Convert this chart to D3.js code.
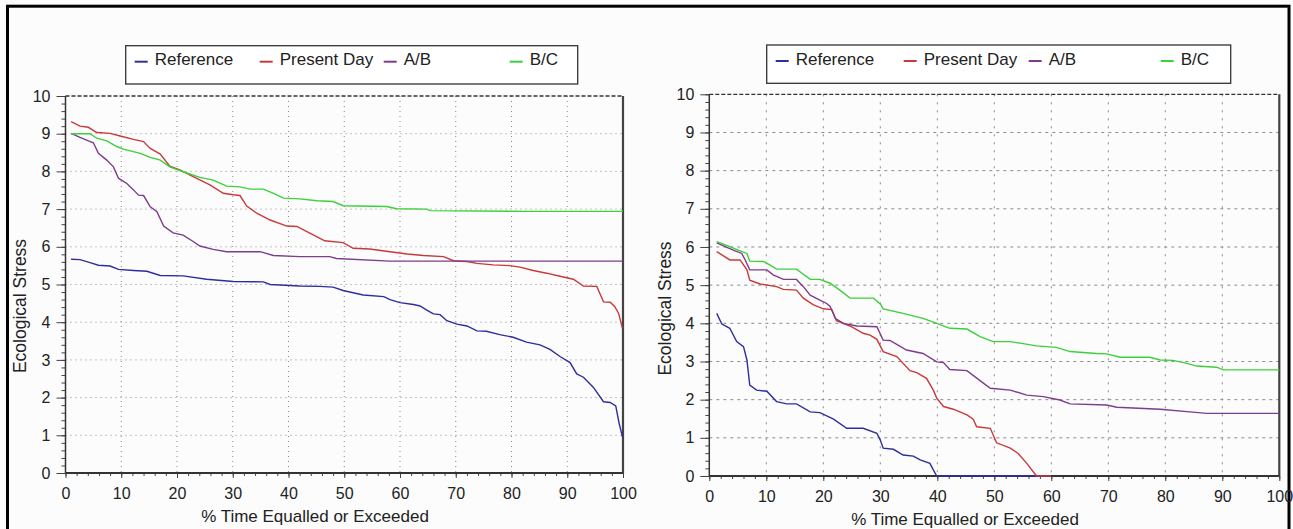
<!DOCTYPE html>
<html>
<head>
<meta charset="utf-8">
<script src="https://cdn.jsdelivr.net/npm/d3@7"></script>
<style>
  body { margin: 0; background: #fcfcfc; }
  svg { display: block; font-family: 'Liberation Sans', Arial, sans-serif; }
</style>
</head>
<body>
<svg id="chart" width="1293" height="529"></svg>
<script>
/* ── data ───────────────────────────────────────────── */
const seriesNames  = ["Reference", "Present Day", "A/B", "B/C"];
const seriesColors = ["#2e2e9e", "#c83a3a", "#7d3c8c", "#3ad13a"];
const xTicks = [0, 10, 20, 30, 40, 50, 60, 70, 80, 90, 100];
const yTicks = [0, 1, 2, 3, 4, 5, 6, 7, 8, 9, 10];

// left panel: [% time, stress]
const leftReference = [[1,5.67],[2.6,5.66],[4.4,5.58],[5.9,5.51],[8,5.49],[9.5,5.4],[12.2,5.37],[14.6,5.35],[17,5.24],[21.1,5.23],[25.3,5.14],[30.1,5.08],[35.5,5.07],[36.7,5.0],[42,4.96],[45.6,4.95],[48,4.93],[49.8,4.84],[53.4,4.72],[57.1,4.68],[58.2,4.6],[60,4.52],[62.4,4.47],[63.6,4.43],[64.8,4.32],[66,4.22],[67.2,4.2],[68.4,4.04],[70.2,3.95],[72,3.9],[73.8,3.77],[75.5,3.76],[77.9,3.67],[80.3,3.6],[82.7,3.47],[85.1,3.4],[86.9,3.28],[88.7,3.09],[90.5,2.93],[91.7,2.63],[92.9,2.54],[94.7,2.27],[96.5,1.89],[97.7,1.87],[98.7,1.78],[99.3,1.32],[99.9,0.96]];
const leftPresent = [[1,9.32],[2.6,9.2],[4.1,9.17],[5.6,9.03],[8,9.01],[9.8,8.94],[12.2,8.85],[14,8.79],[15.2,8.61],[17,8.46],[18.7,8.14],[20.5,8.04],[22.9,7.86],[25.9,7.64],[28.3,7.42],[30.1,7.38],[31.3,7.36],[32.5,7.08],[34.3,6.89],[36.7,6.71],[39.7,6.55],[41.5,6.54],[43.3,6.4],[45.3,6.25],[46.5,6.16],[49.8,6.11],[51.6,5.96],[54.6,5.94],[58.2,5.87],[61.3,5.81],[64.2,5.77],[67.8,5.74],[69.6,5.63],[72,5.61],[73.8,5.56],[76.7,5.52],[79.7,5.5],[81.5,5.46],[83.9,5.37],[86.3,5.3],[88.7,5.22],[91.1,5.14],[92.9,4.96],[95.3,4.95],[96.5,4.54],[97.7,4.53],[98.5,4.42],[99.2,4.24],[99.9,3.84]];
const leftAB = [[1,9.01],[2.6,8.9],[4.1,8.81],[5,8.76],[5.9,8.48],[7.4,8.3],[8.6,8.12],[9.5,7.82],[11,7.68],[12.2,7.51],[13.1,7.37],[14,7.36],[15.2,7.06],[16.4,6.93],[17.6,6.55],[19.3,6.37],[21.1,6.31],[22.9,6.14],[24.1,6.02],[26.5,5.93],[28.9,5.87],[34.9,5.87],[37.3,5.77],[42,5.74],[47.4,5.74],[48.6,5.69],[58.2,5.62],[100,5.62]];
const leftBC = [[1,9.0],[4.4,9.0],[5.6,8.88],[7.4,8.81],[9.2,8.66],[10.4,8.59],[13.4,8.48],[15.2,8.37],[17,8.3],[18.7,8.12],[21.1,7.99],[24.1,7.84],[26.5,7.77],[28.9,7.61],[31.3,7.59],[33.1,7.53],[35.5,7.53],[37.3,7.42],[39.1,7.29],[42,7.27],[45.1,7.22],[48,7.2],[49.8,7.09],[57.6,7.07],[59.4,7.01],[64.8,7.0],[65.4,6.96],[82.7,6.94],[100,6.94]];

// right panel
const rightReference = [[1.3,4.26],[2.2,3.98],[3.6,3.87],[4.8,3.52],[6,3.39],[6.6,3.04],[7.1,2.38],[8.3,2.25],[10.1,2.22],[11.8,1.95],[13.6,1.89],[15.3,1.89],[17.7,1.68],[19.4,1.66],[21.8,1.49],[24.1,1.25],[27,1.25],[29.4,1.12],[30,0.94],[30.5,0.73],[32.3,0.7],[34,0.55],[35.8,0.52],[37,0.42],[38.7,0.33],[39.3,0.16],[39.9,0],[60,0]];
const rightPresent = [[1.3,5.88],[3.6,5.66],[5.4,5.66],[6.6,5.4],[7.1,5.13],[8.9,5.03],[11.8,4.96],[13,4.89],[15.3,4.87],[16.5,4.66],[18.2,4.49],[20,4.38],[21.5,4.36],[22.3,4.07],[24.7,3.93],[27,3.74],[28.2,3.69],[29.4,3.58],[30.5,3.26],[32.9,3.13],[35.2,2.76],[36.4,2.71],[38.1,2.56],[39.3,2.25],[39.9,2.04],[41.1,1.82],[42.8,1.75],[45.2,1.6],[46.3,1.49],[46.9,1.29],[49.3,1.25],[50.4,0.87],[52.8,0.73],[54.2,0.59],[55.7,0.33],[57.4,0],[60,0]];
const rightAB = [[1.3,6.11],[4.2,5.92],[5.7,5.83],[6.3,5.66],[7.1,5.4],[10.1,5.4],[11.2,5.27],[13,5.15],[15.3,5.15],[16.5,4.96],[17.7,4.74],[19.4,4.61],[20.6,4.52],[21.2,4.44],[22.1,4.13],[23.5,4.0],[25.9,3.93],[29.4,3.91],[30.5,3.56],[31.7,3.55],[34.6,3.3],[37.5,3.21],[39.9,2.99],[41.1,2.97],[42.2,2.79],[45.2,2.76],[47.5,2.5],[49.3,2.3],[52.8,2.25],[55.7,2.12],[58.6,2.08],[61.5,1.99],[63.3,1.89],[69.7,1.86],[71.5,1.8],[79.1,1.75],[84.3,1.68],[87.3,1.64],[100,1.64]];
const rightBC = [[1.3,6.14],[3.6,6.01],[5.4,5.9],[6.6,5.83],[7.1,5.63],[9.5,5.62],[10.6,5.53],[11.8,5.42],[15.3,5.42],[17.7,5.15],[19.4,5.15],[21.2,5.05],[22.9,4.87],[24.7,4.66],[28.8,4.66],[30,4.51],[30.5,4.38],[34,4.26],[37.5,4.13],[39.9,4.0],[42.2,3.87],[45.2,3.85],[47.5,3.65],[49.8,3.52],[52.8,3.52],[54.5,3.48],[57.4,3.41],[60.9,3.37],[63.3,3.26],[67.9,3.21],[69.7,3.2],[72.1,3.11],[77.3,3.11],[79.1,3.04],[81.4,3.03],[83.8,2.95],[85.5,2.88],[89,2.85],[90.2,2.78],[100,2.78]];

/* ── layout ─────────────────────────────────────────── */
const panels = [
  { left: 65.5, right: 623, top: 96, bottom: 473,
    series: [leftReference, leftPresent, leftAB, leftBC],
    legend: { x: 125.7, y: 45.7, w: 452, h: 38.3, items: [9, 134, 258, 384], textGap: 20 },
    gridH: "1,4", gridV: "1,4",
    xTitle: { x: 315, y: 522 }, yTitle: { x: 25.5, y: 306 } },
  { left: 709.3, right: 1279.3, top: 94.3, bottom: 476,
    series: [rightReference, rightPresent, rightAB, rightBC],
    legend: { x: 766.7, y: 45, w: 464, h: 38.3, items: [9, 137, 262, 394], textGap: 20 },
    gridH: "3,4", gridV: "2,6",
    xTitle: { x: 965, y: 525 }, yTitle: { x: 670.5, y: 308.5 } }
];

const svg = d3.select("#chart");

// outer frame
svg.append("rect")
  .attr("x", 7.5).attr("y", 6.2)
  .attr("width", 1281.5).attr("height", 540)
  .attr("fill", "#fcfcfc")
  .attr("stroke", "#000").attr("stroke-width", 3);

panels.forEach(function (p) {
  const x = d3.scaleLinear().domain([0, 100]).range([p.left, p.right]);
  const y = d3.scaleLinear().domain([0, 10]).range([p.bottom, p.top]);
  const g = svg.append("g");

  // grid
  g.append("g").selectAll("line")
    .data(yTicks.filter(d => d > 0 && d < 10))
    .join("line")
      .attr("x1", p.left).attr("x2", p.right)
      .attr("y1", d => y(d)).attr("y2", d => y(d))
      .attr("stroke", "#8a8a8a").attr("stroke-dasharray", p.gridH);
  g.append("g").selectAll("line")
    .data(xTicks.filter(d => d > 0 && d < 100))
    .join("line")
      .attr("x1", d => x(d)).attr("x2", d => x(d))
      .attr("y1", p.top).attr("y2", p.bottom)
      .attr("stroke", "#8a8a8a").attr("stroke-dasharray", p.gridV);

  // y axis: minor + major
  const yMinor = g.append("g").attr("transform", `translate(${p.left},0)`)
    .call(d3.axisLeft(y).tickValues(d3.range(0, 10.01, 0.2)).tickSize(4).tickFormat(""));
  const yMajor = g.append("g").attr("transform", `translate(${p.left},0)`)
    .call(d3.axisLeft(y).tickValues(yTicks).tickSize(9).tickPadding(6));
  // x axis: minor + major
  const xMinor = g.append("g").attr("transform", `translate(0,${p.bottom})`)
    .call(d3.axisBottom(x).tickValues(d3.range(0, 100.1, 2)).tickSize(3).tickFormat(""));
  const xMajor = g.append("g").attr("transform", `translate(0,${p.bottom})`)
    .call(d3.axisBottom(x).tickValues(xTicks).tickSize(5).tickPadding(10));

  [yMinor, yMajor, xMinor, xMajor].forEach(a => {
    a.select(".domain").remove();
    a.selectAll("line").attr("stroke", "#444");
    a.selectAll("text").attr("font-size", 16).attr("fill", "#222")
      .attr("font-family", "'Liberation Sans', Arial, sans-serif");
  });

  // frame of the plot
  g.append("line")
    .attr("x1", p.left).attr("x2", p.right).attr("y1", p.top).attr("y2", p.top)
    .attr("stroke", "#333").attr("stroke-dasharray", "4,2").attr("stroke-width", 1.3);
  g.append("line")
    .attr("x1", p.right).attr("x2", p.right).attr("y1", p.top).attr("y2", p.bottom)
    .attr("stroke", "#444").attr("stroke-width", 2.2);
  g.append("line")
    .attr("x1", p.left).attr("x2", p.left).attr("y1", p.top).attr("y2", p.bottom)
    .attr("stroke", "#333").attr("stroke-width", 1.5);
  // zero line (under the series, so lines lying on 0 stay visible)
  g.append("line")
    .attr("x1", p.left).attr("x2", p.right).attr("y1", p.bottom).attr("y2", p.bottom)
    .attr("stroke", "#333").attr("stroke-width", 2);

  // series
  const line = d3.line().x(d => x(d[0])).y(d => y(d[1]));
  p.series.forEach(function (data, i) {
    g.append("path")
      .datum(data)
      .attr("fill", "none")
      .attr("stroke", seriesColors[i])
      .attr("stroke-width", 1.4)
      .attr("d", line);
  });

  // axis titles
  g.append("text")
    .attr("x", p.xTitle.x).attr("y", p.xTitle.y)
    .attr("text-anchor", "middle").attr("font-size", 17).attr("fill", "#222")
    .text("% Time Equalled or Exceeded");
  g.append("text")
    .attr("transform", `translate(${p.yTitle.x},${p.yTitle.y}) rotate(-90)`)
    .attr("text-anchor", "middle").attr("font-size", 17.5).attr("fill", "#222")
    .text("Ecological Stress");

  // legend
  const lg = g.append("g").attr("transform", `translate(${p.legend.x},${p.legend.y})`);
  lg.append("rect")
    .attr("width", p.legend.w).attr("height", p.legend.h)
    .attr("fill", "#fff").attr("stroke", "#333").attr("stroke-width", 1.3);
  seriesNames.forEach(function (name, i) {
    const ox = p.legend.items[i];
    lg.append("line")
      .attr("x1", ox).attr("x2", ox + 13).attr("y1", 16).attr("y2", 16)
      .attr("stroke", seriesColors[i]).attr("stroke-width", 2);
    lg.append("text")
      .attr("x", ox + p.legend.textGap).attr("y", 19.5)
      .attr("font-size", 17).attr("fill", "#222")
      .text(name);
  });
});
</script>
</body>
</html>
